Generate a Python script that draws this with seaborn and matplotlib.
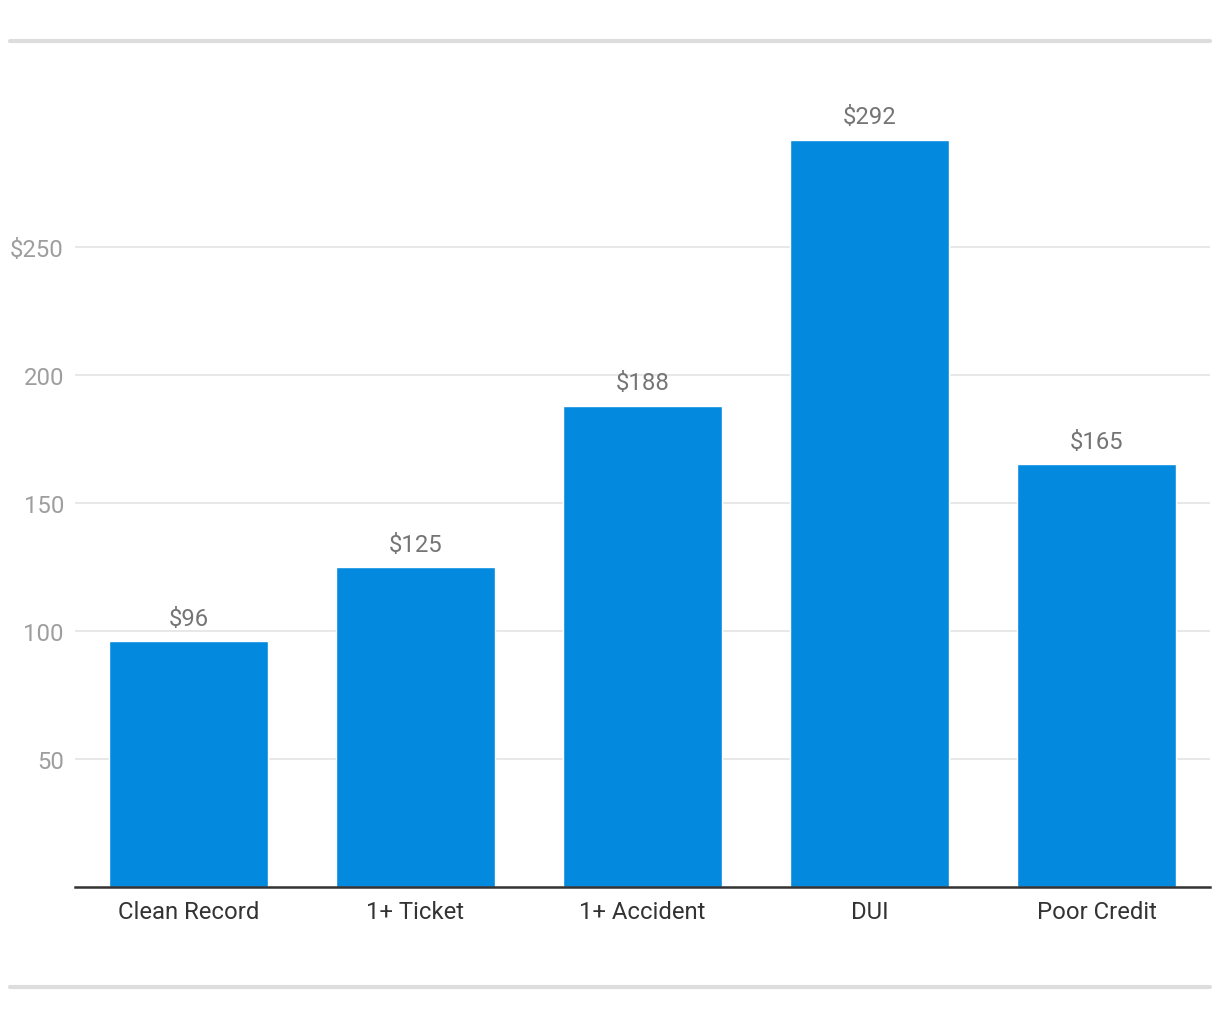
import matplotlib
matplotlib.use("Agg")
import matplotlib.pyplot as plt
from matplotlib.lines import Line2D
import seaborn as sns
import pandas as pd

categories = ["Clean Record", "1+ Ticket", "1+ Accident", "DUI", "Poor Credit"]
values = [96, 125, 188, 292, 165]
value_labels = ["$96", "$125", "$188", "$292", "$165"]
yticks = [50, 100, 150, 200, 250]
ytick_labels = ["50", "100", "150", "200", "$250"]

sns.set_theme(style="white")
plt.rcParams['font.family'] = ['Roboto', 'DejaVu Sans']

W, H = 1220, 1020
fig = plt.figure(figsize=(W / 100, H / 100), dpi=100)
ymax = 320
px_per_unit = (887.5 - 248) / 250
top_px = 887.5 - ymax * px_per_unit
ax = fig.add_axes([75 / W, (H - 887.5) / H, (1210 - 75) / W, (887.5 - top_px) / H])

df = pd.DataFrame({"cat": categories, "val": values})
sns.barplot(data=df, x="cat", y="val", ax=ax, color="#038ADF", saturation=1,
            width=0.70, zorder=3)

ax.set_xlim(-0.5, 4.5)
ax.set_ylim(0, ymax)
ax.set_yticks(yticks)
ax.set_yticklabels(ytick_labels)
ax.set_xlabel("")
ax.set_ylabel("")
ax.tick_params(axis="y", length=0, pad=8, labelsize=17.2, labelcolor="#9e9e9e")
ax.tick_params(axis="x", length=0, pad=10, labelsize=17.2, labelcolor="#333333")
ax.grid(axis="y", color="#e6e6e6", linewidth=1.3, zorder=0)
for s in ["top", "right", "left"]:
    ax.spines[s].set_visible(False)
ax.spines["bottom"].set_color("#333333")
ax.spines["bottom"].set_linewidth(1.8)
ax.spines["bottom"].set_zorder(5)

for i, (v, lab) in enumerate(zip(values, value_labels)):
    ax.annotate(lab, (i, v), xytext=(0, 8), textcoords="offset points",
                ha="center", va="bottom", fontsize=17.2, color="#757575",
                annotation_clip=False)

fig.add_artist(Line2D([10 / W, 1210 / W], [1 - 42 / H, 1 - 42 / H],
                      color="#dddddd", linewidth=3, transform=fig.transFigure))
fig.add_artist(Line2D([10 / W, 1210 / W], [1 - 988 / H, 1 - 988 / H],
                      color="#dddddd", linewidth=3, transform=fig.transFigure))

fig.savefig("out.png", dpi=100, facecolor="white")
